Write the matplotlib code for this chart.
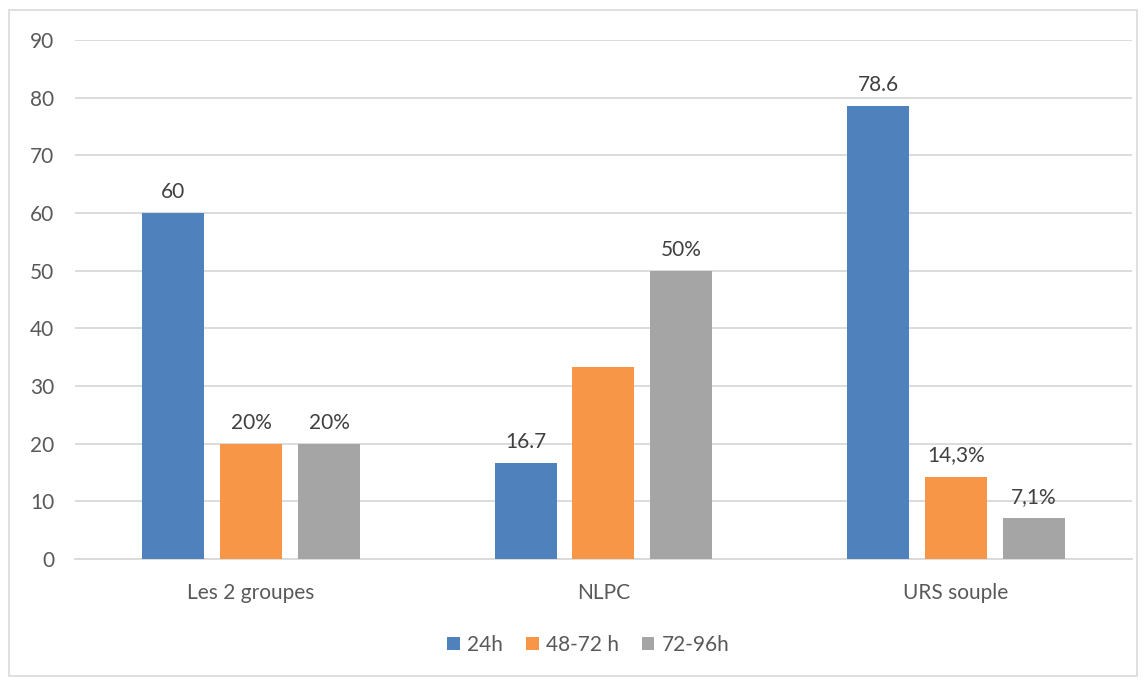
import numpy as np
import matplotlib
matplotlib.use("Agg")
import matplotlib.pyplot as plt
from matplotlib.patches import Patch, Rectangle

plt.rcParams['font.family'] = ['Lato', 'DejaVu Sans']

categories = ['Les 2 groupes', 'NLPC', 'URS souple']
series_names = ['24h', '48-72 h', '72-96h']
v_24h = [60, 16.7, 78.6]
v_48_72 = [20, 33.3, 14.3]
v_72_96 = [20, 50, 7.1]
labels_24h = ['60', '16.7', '78.6']
labels_48_72 = ['20%', '', '14,3%']
labels_72_96 = ['20%', '50%', '7,1%']
yticks = [0, 10, 20, 30, 40, 50, 60, 70, 80, 90]

colors = ['#4F81BD', '#F79646', '#A5A5A5']
text_col = '#595959'
fs = 15

fig = plt.figure(figsize=(11.47, 6.84), dpi=100)
ax = fig.add_axes([0.0654, 0.1827, 0.9215, 0.7588])

x = np.arange(len(categories))
width = 0.176
step = 0.221
all_vals = [v_24h, v_48_72, v_72_96]
all_labels = [labels_24h, labels_48_72, labels_72_96]
for i, (vals, labs) in enumerate(zip(all_vals, all_labels)):
    pos = x + (i - 1) * step
    ax.bar(pos, vals, width, color=colors[i], zorder=3)
    for px, v, lab in zip(pos, vals, labs):
        if lab:
            ax.annotate(lab, (px, v), xytext=(0, 8), textcoords='offset points',
                        ha='center', va='bottom', fontsize=fs, color='#404040')

ax.set_xlim(-0.5, 2.5)
ax.set_ylim(0, 90)
ax.set_yticks(yticks)
ax.set_xticks(x)
ax.set_xticklabels(categories)
ax.yaxis.grid(True, color='#D9D9D9', linewidth=1.3, zorder=0)
ax.tick_params(axis='both', length=0, labelsize=fs, colors=text_col)
ax.tick_params(axis='y', pad=15)
ax.tick_params(axis='x', pad=17)
for s in ['top', 'right', 'left']:
    ax.spines[s].set_visible(False)
ax.spines['bottom'].set_color('#D9D9D9')
ax.spines['bottom'].set_linewidth(1.3)

handles = [Patch(facecolor=c, label=n) for c, n in zip(colors, series_names)]
leg = fig.legend(handles=handles, loc='center', bbox_to_anchor=(0.513, 0.057),
                 ncol=3, frameon=False, fontsize=fs, handlelength=0.6,
                 handleheight=0.6, handletextpad=0.35, columnspacing=1.1)
for t in leg.get_texts():
    t.set_color(text_col)

fig.patches.append(Rectangle((9 / 1147, 8 / 684), 1128 / 1147, 666 / 684,
                             transform=fig.transFigure, fill=False,
                             edgecolor='#D9D9D9', linewidth=1.2))

fig.savefig('out.png', dpi=100)
